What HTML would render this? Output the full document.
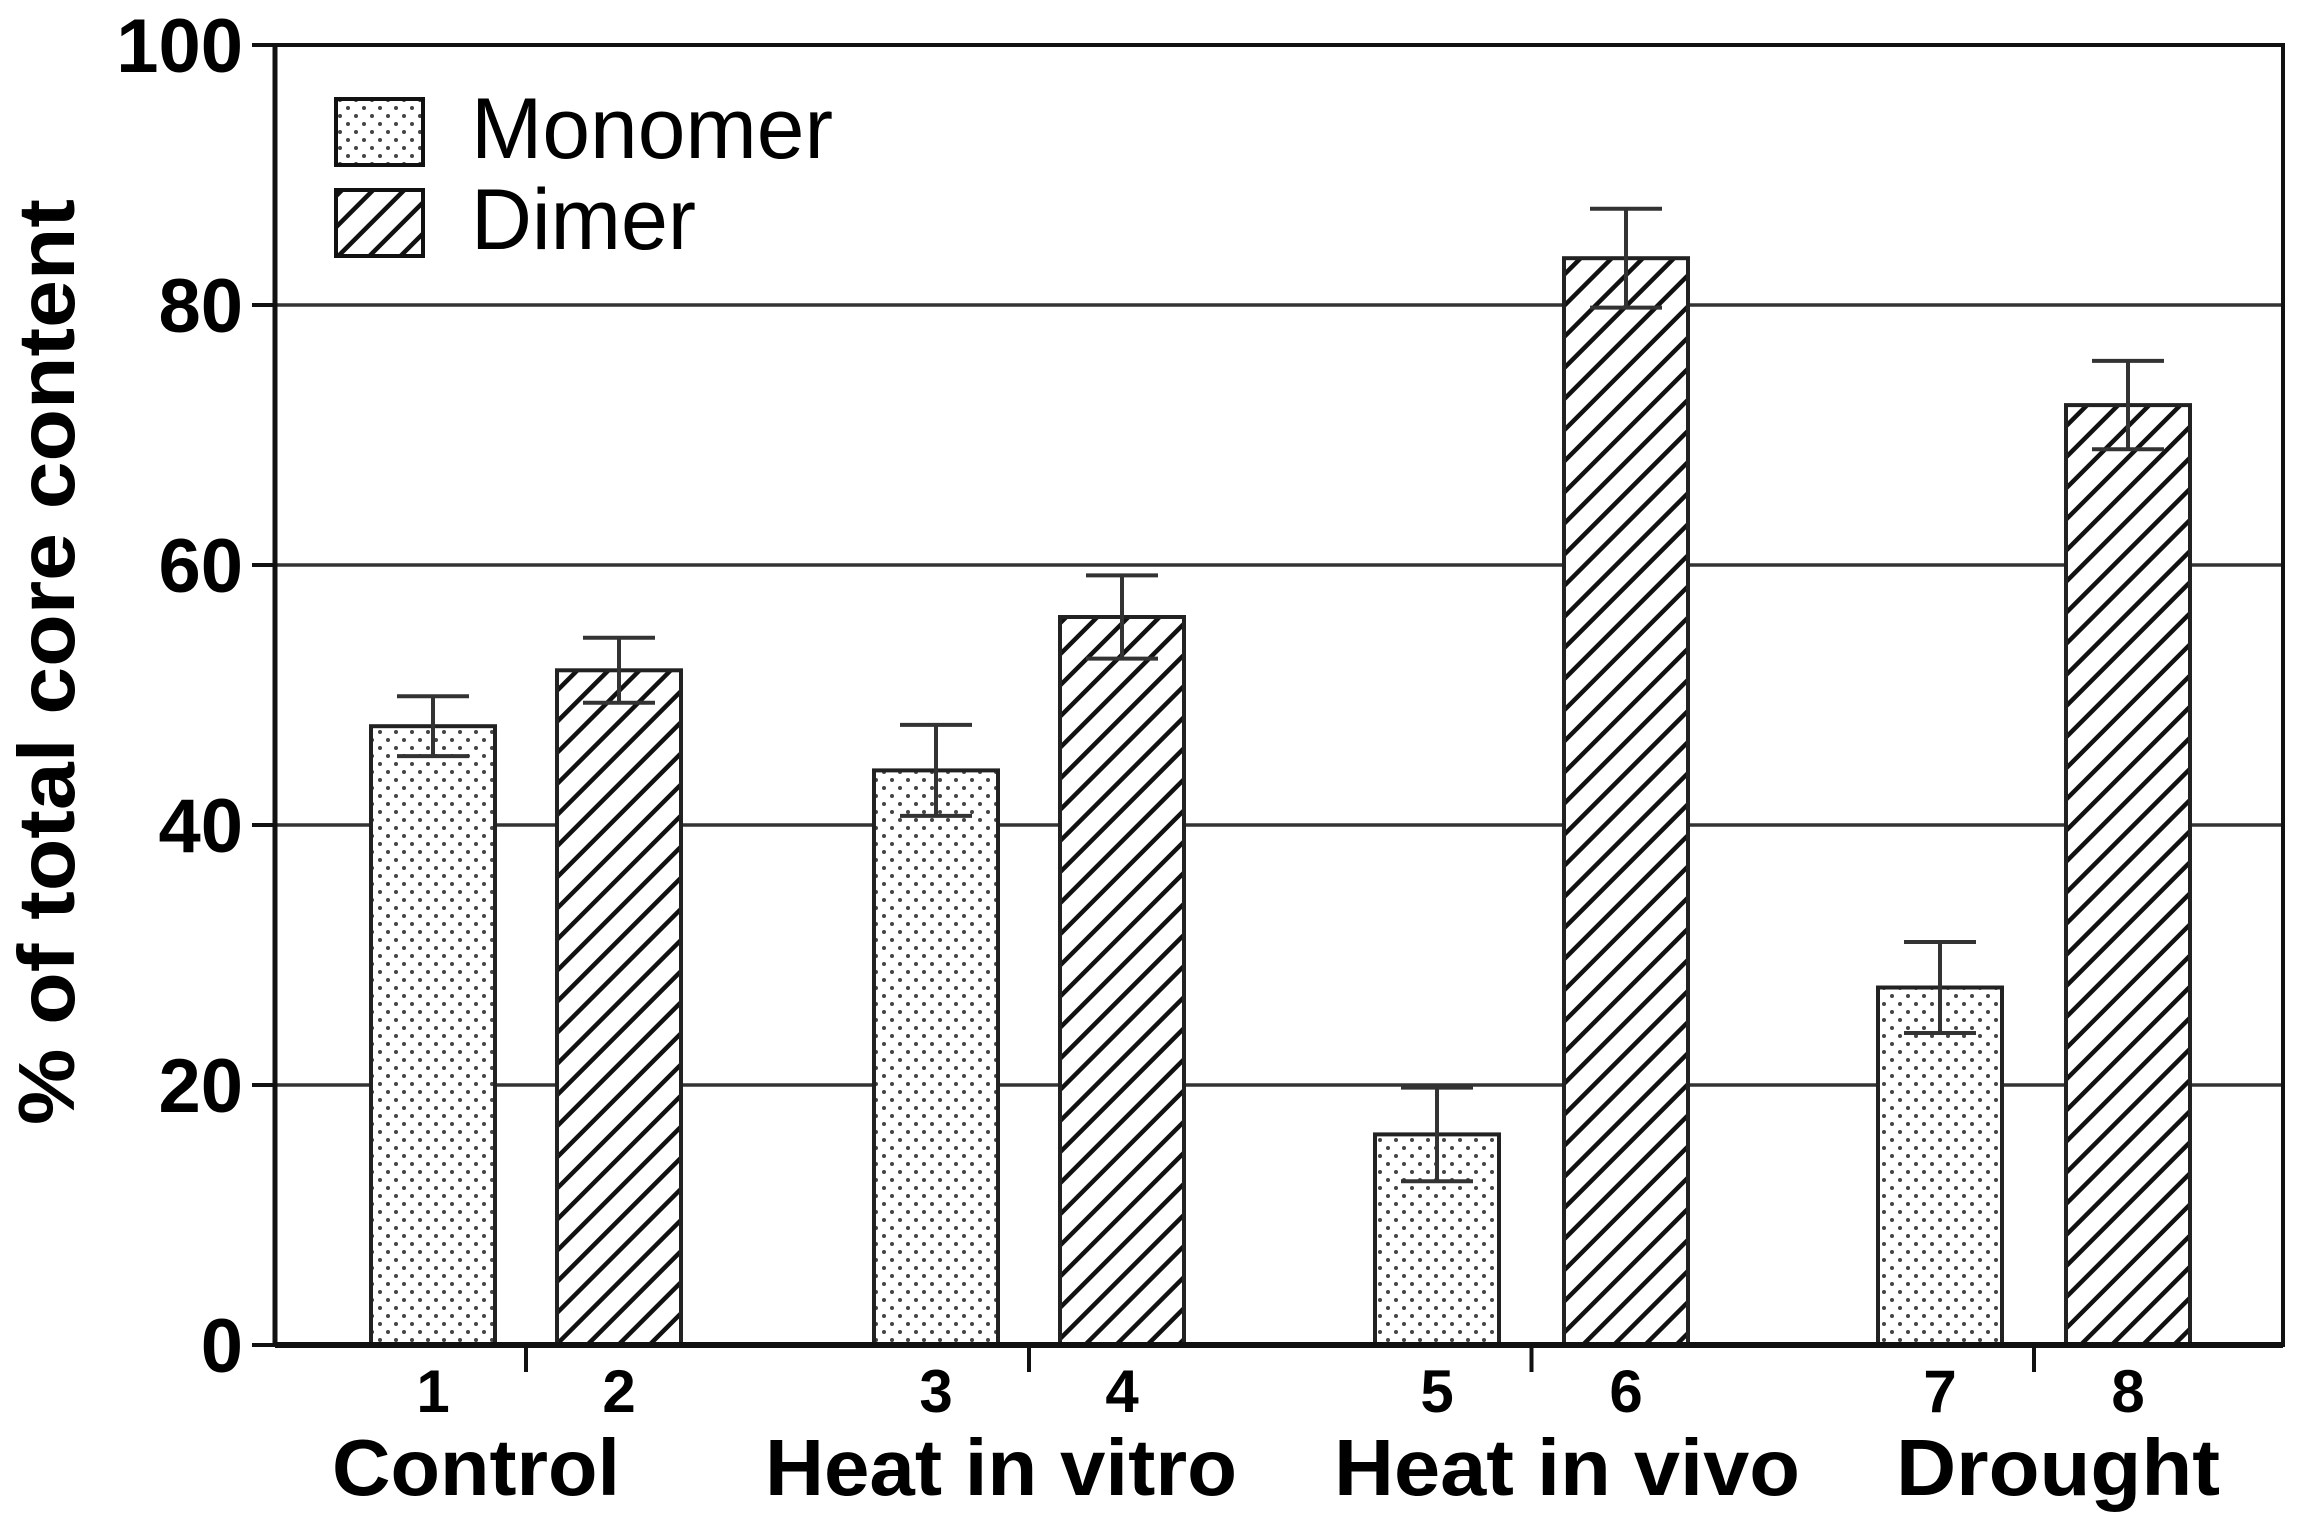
<!DOCTYPE html>
<html><head><meta charset="utf-8"><style>html,body{margin:0;padding:0;background:#fff}svg{display:block}</style></head>
<body>
<svg id="chart" width="2307" height="1526" viewBox="0 0 2307 1526" xmlns="http://www.w3.org/2000/svg" font-family="'Liberation Sans', sans-serif">
<defs>
<pattern id="dots" patternUnits="userSpaceOnUse" width="16" height="16">
<rect width="16" height="16" fill="#fff"/>
<circle cx="4" cy="4" r="2" fill="#444"/><circle cx="12" cy="12" r="2" fill="#444"/>
</pattern>
<pattern id="hatch" patternUnits="userSpaceOnUse" width="22" height="22" patternTransform="rotate(45)">
<rect width="22" height="22" fill="#fff"/>
<rect x="0" y="0" width="4.5" height="22" fill="#111"/>
</pattern>
</defs>
<g id="grid"></g>
<g id="bars"></g>
<g id="axes"></g>
<text transform="translate(74,662) rotate(-90)" text-anchor="middle" font-size="80" font-weight="bold" textLength="926" lengthAdjust="spacingAndGlyphs">% of total core content</text>
<g>
<rect x="336" y="99" width="87" height="66" fill="url(#dots)" stroke="#111" stroke-width="4"/>
<text x="471" y="158" font-size="86" textLength="362" lengthAdjust="spacingAndGlyphs">Monomer</text>
<rect x="336" y="190" width="87" height="66" fill="url(#hatch)" stroke="#111" stroke-width="4"/>
<text x="471" y="249" font-size="86" textLength="225" lengthAdjust="spacingAndGlyphs">Dimer</text>
</g>
</svg>
<script>
const barLabels = ["1","2","3","4","5","6","7","8"];
const barValues = [47.6, 51.9, 44.2, 56.0, 16.2, 83.6, 27.5, 72.3];
const barErrors = [2.3, 2.5, 3.5, 3.2, 3.6, 3.8, 3.5, 3.4];
const barSeries = ["m","d","m","d","m","d","m","d"];
const groupLabels = ["Control","Heat in vitro","Heat in vivo","Drought"];
const yTicks = [0,20,40,60,80,100];

const NS="http://www.w3.org/2000/svg";
const L=275,R=2283,B=1345,T=45;
const yS=v=>B-(v/100)*(B-T);
const slotStart=[433,619,936,1122,1437,1626,1940,2128];
function xc(i){return slotStart[i];}
function mk(tag,attrs,parent){const e=document.createElementNS(NS,tag);for(const k in attrs)e.setAttribute(k,attrs[k]);parent.appendChild(e);return e;}
const grid=document.getElementById('grid'),bars=document.getElementById('bars'),axes=document.getElementById('axes');
yTicks.forEach(t=>{
  if(t>0&&t<100){const g=mk('line',{x1:L,x2:R,y1:yS(t),y2:yS(t),stroke:'#333','stroke-width':3.5},grid);
  
  }
  const tk=mk('line',{x1:L-23,x2:L,y1:yS(t),y2:yS(t),stroke:'#111','stroke-width':4},axes);
  
  
  const tx=mk('text',{x:243,y:yS(t)+27,'text-anchor':'end','font-size':76,'font-weight':'bold'},axes);
  
  
  tx.textContent=t;
});
const bw=124;
barValues.forEach((v,i)=>{
  const x=xc(i);
  const r=mk('rect',{x:x-bw/2,y:yS(v),width:bw,height:B-yS(v),fill:barSeries[i]==='m'?'url(#dots)':'url(#hatch)',stroke:'#222','stroke-width':4},bars);
  
  
  const e=barErrors[i];
  const eg=mk('g',{stroke:'#333','stroke-width':4},bars);
  
  
  mk('line',{x1:x,x2:x,y1:yS(v+e),y2:yS(v-e)},eg);
  mk('line',{x1:x-36,x2:x+36,y1:yS(v+e),y2:yS(v+e)},eg);
  mk('line',{x1:x-36,x2:x+36,y1:yS(v-e),y2:yS(v-e)},eg);
  const n=mk('text',{x:x,y:1412,'text-anchor':'middle','font-size':60,'font-weight':'bold'},axes);
  
  
  n.textContent=barLabels[i];
});
const fr=mk('rect',{x:L,y:T,width:R-L,height:B-T,fill:'none',stroke:'#111','stroke-width':4},axes);


const ax=mk('line',{x1:L,x2:R,y1:B,y2:B,stroke:'#111','stroke-width':6},axes);


const ay=mk('line',{x1:L,x2:L,y1:T,y2:B,stroke:'#111','stroke-width':5},axes);


const gx=[[332,620],[765,1237],[1334,1800],[1896,2220]];
groupLabels.forEach((g,i)=>{
  const sx=(xc(2*i)+xc(2*i+1))/2;
  const tk=mk('line',{x1:sx,x2:sx,y1:B,y2:1372,stroke:'#111','stroke-width':4},axes);
  
  
  const t=mk('text',{x:gx[i][0],y:1495,'font-size':80,'font-weight':'bold',textLength:gx[i][1]-gx[i][0],lengthAdjust:'spacingAndGlyphs'},axes);
  
  
  t.textContent=g;
});
</script>
</body></html>
